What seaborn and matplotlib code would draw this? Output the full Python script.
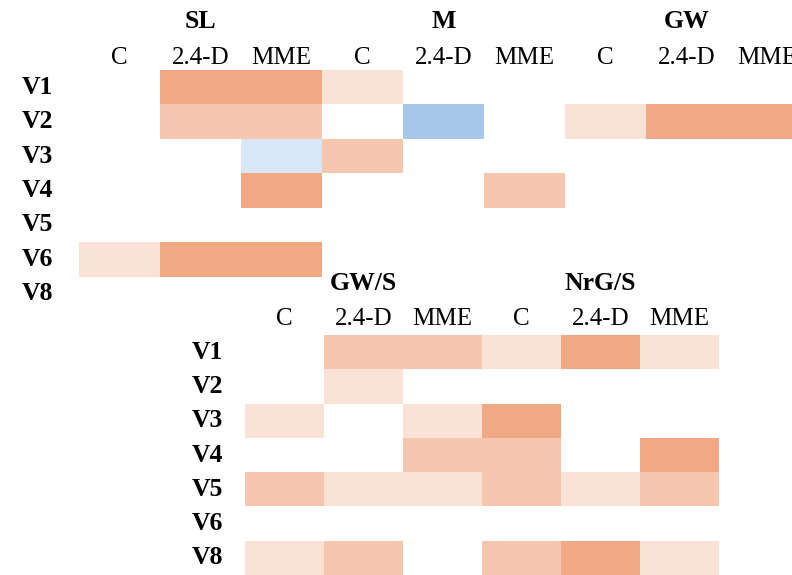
import numpy as np
import pandas as pd
import matplotlib
matplotlib.use("Agg")
import matplotlib.pyplot as plt
import seaborn as sns
from matplotlib.colors import ListedColormap

# ---- data ----
rows = ["V1", "V2", "V3", "V4", "V5", "V6", "V8"]
treatments = ["C", "2.4-D", "MME"]
top_groups = ["SL", "M", "GW"]
bottom_groups = ["GW/S", "NrG/S"]

# levels: -3 strong decrease ... 0 none ... 3 strong increase
top_values = [
    [0, 3, 3, 1, 0, 0, 0, 0, 0],
    [0, 2, 2, 0, -3, 0, 1, 3, 3],
    [0, 0, -1, 2, 0, 0, 0, 0, 0],
    [0, 0, 3, 0, 0, 2, 0, 0, 0],
    [0, 0, 0, 0, 0, 0, 0, 0, 0],
    [1, 3, 3, 0, 0, 0, 0, 0, 0],
    [0, 0, 0, 0, 0, 0, 0, 0, 0],
]
bottom_values = [
    [0, 2, 2, 1, 3, 1],
    [0, 1, 0, 0, 0, 0],
    [1, 0, 1, 3, 0, 0],
    [0, 0, 2, 2, 0, 3],
    [2, 1, 1, 2, 1, 2],
    [0, 0, 0, 0, 0, 0],
    [1, 2, 0, 2, 3, 1],
]

level_colors = ["#A5C8EA", "#BFD8F0", "#D9E7F6", "#FFFFFF",
                "#FAE2D6", "#F6C6AE", "#F0A984"]
cmap = ListedColormap(level_colors)

sns.set_theme(style="white")
plt.rcParams["font.family"] = ["Liberation Serif", "DejaVu Serif"]

W, H = 792, 575
fig = plt.figure(figsize=(W / 100, H / 100), dpi=100)

def make_df(values, groups):
    cols = [f"{g}|{t}" for g in groups for t in treatments]
    return pd.DataFrame(values, index=rows, columns=cols)

def draw(ax, values, groups, row_pad, col_pad, title_y):
    df = make_df(values, groups)
    sns.heatmap(df, ax=ax, cmap=cmap, vmin=-3.5, vmax=3.5, cbar=False,
                linewidths=0, xticklabels=treatments * len(groups),
                yticklabels=rows)
    ax.xaxis.tick_top()
    ax.tick_params(axis="x", length=0, pad=col_pad, labelsize=18,
                   labelrotation=0, colors="black")
    ax.tick_params(axis="y", length=0, pad=row_pad, labelsize=18.5,
                   labelrotation=0, colors="black")
    for lab in ax.get_yticklabels():
        lab.set_fontweight("bold")
    ax.set_xlabel("")
    ax.set_ylabel("")
    for i, g in enumerate(groups):
        ax.text(i * 3 + 1.5, title_y, g, ha="center", va="baseline",
                fontsize=18.5, fontweight="bold", color="black",
                clip_on=False)

# top heatmap (extends beyond right edge of figure, like the reference)
ax1 = fig.add_axes([79 / W, 1 - 311 / H, 729 / W, 241 / H])
draw(ax1, top_values, top_groups, row_pad=18.5, col_pad=1.0, title_y=-1.23)

# bottom heatmap
ax2 = fig.add_axes([245 / W, 0, 474 / W, 240 / H])
draw(ax2, bottom_values, bottom_groups, row_pad=15.4, col_pad=3.3, title_y=-1.31)

fig.savefig("out.png", dpi=100)
